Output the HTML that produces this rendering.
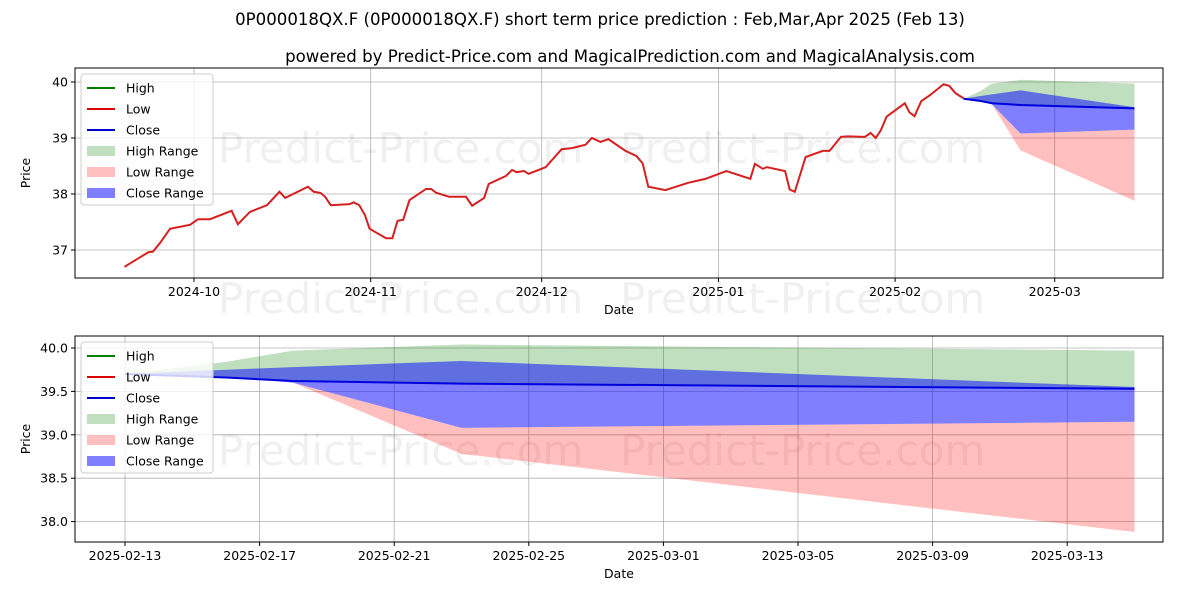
<!DOCTYPE html>
<html><head><meta charset="utf-8"><style>
body{margin:0;background:#fff;font-family:"DejaVu Sans","Liberation Sans",sans-serif}
svg text{font-family:"DejaVu Sans","Liberation Sans",sans-serif}
</style></head><body>
<svg id="c" width="1200" height="600" xmlns="http://www.w3.org/2000/svg">
<text x="600" y="25" text-anchor="middle" font-size="16.6">0P000018QX.F (0P000018QX.F) short term price prediction : Feb,Mar,Apr 2025 (Feb 13)</text>
<text x="630" y="62" text-anchor="middle" font-size="16.6">powered by Predict-Price.com and MagicalPrediction.com and MagicalAnalysis.com</text>
</svg>
<script>
// historical series: days from 2024-10-01
const histDays=[-12.2,-8,-7.2,-6,-4.2,-0.7,0.7,2.8,6.6,7.7,9.8,12.8,15,16,20,21,22.2,23,24,27.3,28,29,30,30.8,33.7,34.8,35.7,36.7,37.8,40.7,41.6,42.5,44.8,47.7,48.8,50.9,51.7,54.7,55.8,56.6,57.9,58.7,61.7,64.5,66.3,68.7,69.8,71.3,72.7,75.7,77.6,78.7,79.7,82.7,86.7,89.7,93.4,97.6,98.4,99.8,100.5,103.7,104.5,105.4,107.3,110.3,111.5,113.5,114.7,117.7,118.7,119.6,120.5,121.5,124.7,125.5,126.4,127.6,129.2,131.5,132.5,133.6,135];
const histLow=[36.70,36.96,36.97,37.12,37.38,37.45,37.55,37.55,37.70,37.46,37.68,37.80,38.04,37.93,38.13,38.04,38.02,37.95,37.80,37.82,37.85,37.80,37.62,37.38,37.21,37.21,37.52,37.54,37.89,38.09,38.09,38.02,37.95,37.95,37.79,37.93,38.18,38.32,38.43,38.39,38.41,38.36,38.48,38.80,38.82,38.88,39.00,38.93,38.98,38.77,38.68,38.55,38.13,38.07,38.20,38.27,38.41,38.27,38.54,38.45,38.48,38.41,38.08,38.04,38.66,38.77,38.77,39.02,39.03,39.02,39.09,39.00,39.14,39.38,39.62,39.46,39.39,39.66,39.77,39.96,39.93,39.80,39.71];
// forecast: days from 2025-02-13
const fDays=[0,3,5,10,30];
const closeVals=[39.70,39.66,39.62,39.59,39.53];
const highUpper=[39.70,39.84,39.97,40.04,39.97];
const highLower=[39.70,39.66,39.62,39.59,39.53];
const closeUpper=[39.70,39.75,39.78,39.85,39.55];
const closeLower=[39.70,39.67,39.60,39.08,39.15];
const lowUpper=[39.70,39.66,39.60,39.08,39.15];
const lowLower=[39.70,39.66,39.60,38.78,37.88];
const topXTicks=["2024-10","2024-11","2024-12","2025-01","2025-02","2025-03"];
const topXTickDays=[0,31,61,92,123,151];
const topYTicks=[37,38,39,40];
const botXTicks=["2025-02-13","2025-02-17","2025-02-21","2025-02-25","2025-03-01","2025-03-05","2025-03-09","2025-03-13"];
const botXTickDays=[0,4,8,12,16,20,24,28];
const botYTicks=[38.0,38.5,39.0,39.5,40.0];
const FOFF=135;

const svg=document.getElementById('c');const NS="http://www.w3.org/2000/svg";
function el(t,a,p){const e=document.createElementNS(NS,t);for(const k in a)e.setAttribute(k,a[k]);(p||svg).appendChild(e);return e;}

function panel(o){
  const g=el('g',{});
  
  
  const X=o.X,Y=o.Y;
  o.xt.forEach((d,i)=>{const l=el('line',{x1:X(o.xd[i]),x2:X(o.xd[i]),y1:o.t,y2:o.b,stroke:'#b0b0b0','stroke-width':0.8},g);
    });
  o.yt.forEach(v=>{const l=el('line',{x1:o.l,x2:o.r,y1:Y(v),y2:Y(v),stroke:'#b0b0b0','stroke-width':0.8},g);
    });
  o.wm.forEach(w=>{const t=el('text',{x:w[0],y:w[1],'font-size':42,fill:'#000','fill-opacity':0.06},g);t.textContent='Predict-Price.com';
    });
  function band(up,lo,col,name){
    let d='';fDays.forEach((dd,i)=>{d+=(i?'L':'M')+X(dd+o.off)+','+Y(up[i]);});
    for(let i=fDays.length-1;i>=0;i--)d+='L'+X(fDays[i]+o.off)+','+Y(lo[i]);
    const p=el('path',{d:d+'Z',fill:col,stroke:'none'},g);
    }
  band(highUpper,highLower,'rgba(0,128,0,0.25)','high-range-band');
  band(lowUpper,lowLower,'rgba(255,0,0,0.25)','low-range-band');
  band(closeUpper,closeLower,'rgba(0,0,255,0.5)','close-range-band');
  if(o.hist){
    const pl=el('polyline',{points:histDays.map((d,i)=>X(d)+','+Y(histLow[i])).join(' '),fill:'none',stroke:'#d62020','stroke-width':2},g);
    
  }
  const cl=el('polyline',{points:fDays.map((d,i)=>X(d+o.off)+','+Y(closeVals[i])).join(' '),fill:'none',stroke:'#0000dd','stroke-width':2},g);
  
  const fr=el('rect',{x:o.l,y:o.t,width:o.r-o.l,height:o.b-o.t,fill:'none',stroke:'#000','stroke-width':1},g);
  
  o.xt.forEach((lab,i)=>{const x=X(o.xd[i]);el('line',{x1:x,x2:x,y1:o.b,y2:o.b+4,stroke:'#000'},g);
    const t=el('text',{x:x,y:o.b+18,'font-size':12.5,'text-anchor':'middle'},g);t.textContent=lab;
    });
  o.yt.forEach(v=>{const y=Y(v);el('line',{x1:o.l-4,x2:o.l,y1:y,y2:y,stroke:'#000'},g);
    const t=el('text',{x:o.l-7,y:y+4.5,'font-size':12.5,'text-anchor':'end'},g);t.textContent=o.fmt(v);
    });
  const xl=el('text',{x:(o.l+o.r)/2,y:o.b+36,'font-size':12.5,'text-anchor':'middle'},g);xl.textContent='Date';
  
  const yl=el('text',{x:0,y:0,'font-size':12.5,'text-anchor':'middle',transform:`translate(${o.l-45},${(o.t+o.b)/2}) rotate(-90)`},g);yl.textContent='Price';
  
  const lg=el('g',{},g);
  el('rect',{x:o.l+6,y:o.t+6,width:132,height:131,rx:3,fill:'#fff','fill-opacity':0.8,stroke:'#ccc'},lg);
  const items=[['High','line','#008000'],['Low','line','#dd0000'],['Close','line','#0000cc'],['High Range','box','rgba(0,128,0,0.25)'],['Low Range','box','rgba(255,0,0,0.25)'],['Close Range','box','rgba(0,0,255,0.5)']];
  items.forEach((it,i)=>{const y=o.t+20+i*21;
    const e=el('g',{},lg);
    if(it[1]=='line')el('line',{x1:o.l+12,x2:o.l+40,y1:y,y2:y,stroke:it[2],'stroke-width':2},e);
    else el('rect',{x:o.l+12,y:y-5,width:28,height:10,fill:it[2]},e);
    const t=el('text',{x:o.l+51,y:y+4.5,'font-size':12.5},e);t.textContent=it[0];});
}
panel({name:'top-panel',l:75,r:1163,t:68,b:278,X:d=>194+d*5.70,Y:v=>82+(40-v)*56,
  xt:topXTicks,xd:topXTickDays,yt:topYTicks,fmt:v=>String(v),off:FOFF,hist:true,
  wm:[[218,163],[620,163],[218,313],[620,313]]});
panel({name:'bottom-panel',l:75,r:1163,t:336,b:542,X:d=>125+d*33.65,Y:v=>348+(40-v)*86.8,
  xt:botXTicks,xd:botXTickDays,yt:botYTicks,fmt:v=>v.toFixed(1),off:0,hist:false,
  wm:[[218,465],[620,465]]});
</script>
</body></html>
